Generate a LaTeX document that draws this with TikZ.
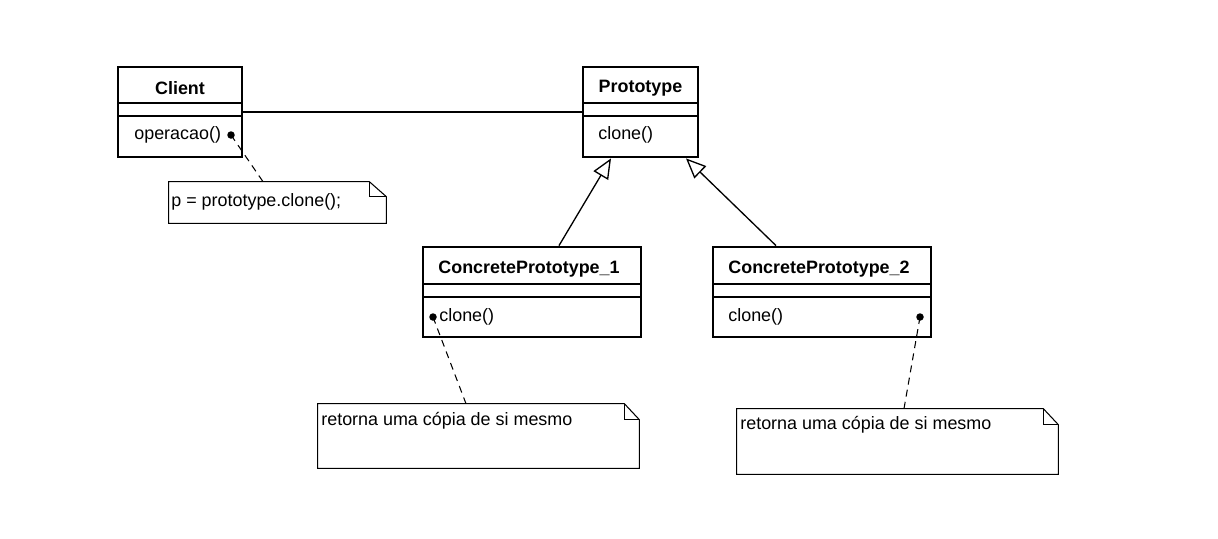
\documentclass[tikz,border=0pt]{standalone}
\usepackage{fontspec}
\setmainfont{Liberation Sans}
\usetikzlibrary{arrows.meta}

\tikzset{
    klass/.style={draw,line width=1.6pt,minimum height=1.8cm,inner sep=0},
    sep/.style={line width=0.9pt},
    title/.style={font=\fontsize{10.2}{12}\bfseries,inner sep=0},
    op/.style={font=\fontsize{10.2}{12}\selectfont,anchor=west,inner sep=0},
    notebox/.style={inner sep=0},
    notetext/.style={font=\fontsize{10.2}{12}\selectfont,anchor=west,inner sep=0},
    dot/.style={circle,fill,inner sep=0,minimum size=0.15cm},
    inherit/.style={line width=0.75pt,-{Triangle[open,length=0.4cm,width=0.34cm]}},
    anchorline/.style={line width=0.6pt,dash pattern=on 4pt off 3pt}
}

\begin{document}
\begin{tikzpicture}[x=0.02cm,y=-0.02cm]
    \useasboundingbox (0,0) rectangle (1218,538);

    \node[klass,minimum width=2.48cm] (client) at (180,112) {};
    \node[klass,minimum width=2.30cm] (proto) at (640.5,112) {};
    \node[klass,minimum width=4.36cm] (cp1) at (532,292) {};
    \node[klass,minimum width=4.36cm] (cp2) at (822,292) {};
    \draw[sep] (118,103) -- (242,103);
    \draw[sep] (118,116) -- (242,116);
    \draw[sep] (583,103) -- (698,103);
    \draw[sep] (583,116) -- (698,116);
    \draw[sep] (423,284) -- (641,284);
    \draw[sep] (423,297) -- (641,297);
    \draw[sep] (713,284) -- (931,284);
    \draw[sep] (713,297) -- (931,297);

    \node[title] (clienttitle) at (180,88) {Client};
    \node[op] (clientop) at (134,135) {operacao()};
    \node[title] (prototitle) at (640.5,88) {Prototype};
    \node[op] (protoop) at (598,135) {clone()};
    \node[title] (cp1title) at (529,269) {ConcretePrototype\_1};
    \node[op] (cp1op) at (439,317) {clone()};
    \node[title] (cp2title) at (819,269) {ConcretePrototype\_2};
    \node[op] (cp2op) at (728,317) {clone()};

    \node[dot] (clientdot) at (231,135) {};
    \node[dot] (cp1dot) at (433,317) {};
    \node[dot] (cp2dot) at (920,317) {};

    \node[notebox,minimum width=4.34cm,minimum height=0.82cm] (note1) at (277.5,202.5) {};
    \node[notebox,minimum width=6.42cm,minimum height=1.28cm] (note2) at (478.5,436) {};
    \node[notebox,minimum width=6.42cm,minimum height=1.30cm] (note3) at (897.5,441.5) {};
    \draw[line width=0.6pt] (note1.north west) -- ([xshift=-0.34cm]note1.north east) -- ([yshift=-0.3cm]note1.north east) -- (note1.south east) -- (note1.south west) -- cycle;
    \draw[line width=0.6pt] ([xshift=-0.34cm]note1.north east) |- ([yshift=-0.3cm]note1.north east);
    \draw[line width=0.6pt] (note2.north west) -- ([xshift=-0.3cm]note2.north east) -- ([yshift=-0.32cm]note2.north east) -- (note2.south east) -- (note2.south west) -- cycle;
    \draw[line width=0.6pt] ([xshift=-0.3cm]note2.north east) |- ([yshift=-0.32cm]note2.north east);
    \draw[line width=0.6pt] (note3.north west) -- ([xshift=-0.3cm]note3.north east) -- ([yshift=-0.32cm]note3.north east) -- (note3.south east) -- (note3.south west) -- cycle;
    \draw[line width=0.6pt] ([xshift=-0.3cm]note3.north east) |- ([yshift=-0.32cm]note3.north east);
    \node[notetext] (note1text) at (171,202) {p = prototype.clone();};
    \node[notetext] (note2text) at (321,421) {retorna uma cópia de si mesmo};
    \node[notetext] (note3text) at (740,425) {retorna uma cópia de si mesmo};

    \draw[line width=0.75pt] (client.east) -- (proto.west);
    \draw[inherit] ([xshift=0.54cm]cp1.north) -- ([xshift=-0.59cm]proto.south);
    \draw[inherit] ([xshift=-0.92cm]cp2.north) -- ([xshift=0.91cm]proto.south);
    \draw[anchorline] (clientdot.center) -- ([xshift=-0.29cm]note1.north);
    \draw[anchorline] (cp1dot.center) -- ([xshift=-0.25cm]note2.north);
    \draw[anchorline] (cp2dot.center) -- ([xshift=0.13cm]note3.north);
\end{tikzpicture}
\end{document}
